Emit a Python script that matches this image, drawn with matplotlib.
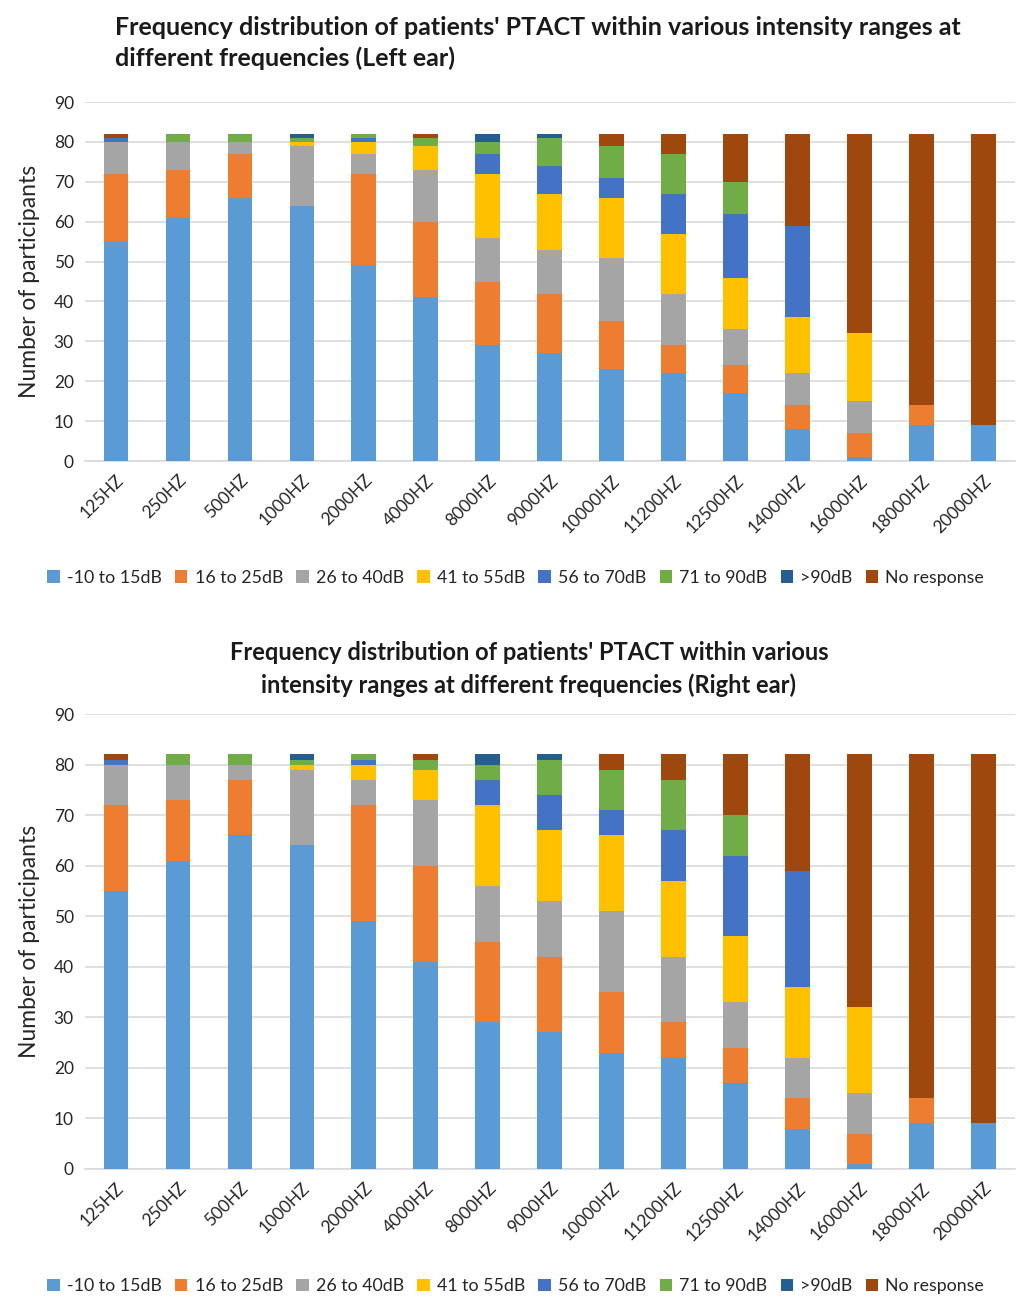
import numpy as np
import matplotlib
matplotlib.use('Agg')
import matplotlib.pyplot as plt
from matplotlib.patches import Patch

plt.rcParams['font.family'] = ['Lato', 'DejaVu Sans']

# frequencies tested
freqs = ['125HZ', '250HZ', '500HZ', '1000HZ', '2000HZ', '4000HZ', '8000HZ', '9000HZ',
         '10000HZ', '11200HZ', '12500HZ', '14000HZ', '16000HZ', '18000HZ', '20000HZ']

ranges = ['-10 to 15dB', '16 to 25dB', '26 to 40dB', '41 to 55dB',
          '56 to 70dB', '71 to 90dB', '>90dB', 'No response']
colors = ['#5B9BD5', '#ED7D31', '#A5A5A5', '#FFC000', '#4472C4', '#70AD47', '#255E91', '#9E480E']

# counts per intensity range (same for both ears)
r_m10_15 = [55, 61, 66, 64, 49, 41, 29, 27, 23, 22, 17, 8, 1, 9, 9]
r_16_25 = [17, 12, 11, 0, 23, 19, 16, 15, 12, 7, 7, 6, 6, 5, 0]
r_26_40 = [8, 7, 3, 15, 5, 13, 11, 11, 16, 13, 9, 8, 8, 0, 0]
r_41_55 = [0, 0, 0, 1, 3, 6, 16, 14, 15, 15, 13, 14, 17, 0, 0]
r_56_70 = [1, 0, 0, 0, 1, 0, 5, 7, 5, 10, 16, 23, 0, 0, 0]
r_71_90 = [0, 2, 2, 1, 1, 2, 3, 7, 8, 10, 8, 0, 0, 0, 0]
r_gt90 = [0, 0, 0, 1, 0, 0, 2, 1, 0, 0, 0, 0, 0, 0, 0]
r_none = [1, 0, 0, 0, 0, 1, 0, 0, 3, 5, 12, 23, 50, 68, 73]

left_ear = [r_m10_15, r_16_25, r_26_40, r_41_55, r_56_70, r_71_90, r_gt90, r_none]
right_ear = [r_m10_15, r_16_25, r_26_40, r_41_55, r_56_70, r_71_90, r_gt90, r_none]

fig = plt.figure(figsize=(10.17, 12.98), dpi=100)
ax1 = fig.add_axes([0.0836, 0.6448, 0.914, 0.2766])
ax2 = fig.add_axes([0.0836, 0.0994, 0.914, 0.3505])


def draw(ax, data):
    x = np.arange(len(freqs))
    bottom = np.zeros(len(freqs))
    for vals, c in zip(data, colors):
        ax.bar(x, vals, 0.4, bottom=bottom, color=c, zorder=3)
        bottom += np.array(vals)
    ax.set_xlim(-0.5, len(freqs) - 0.5)
    ax.set_ylim(0, 90)
    ax.set_yticks(range(0, 91, 10))
    ax.grid(axis='y', color='#D9D9D9', linewidth=1.2, zorder=0)
    for s in ['top', 'right', 'left']:
        ax.spines[s].set_visible(False)
    ax.spines['bottom'].set_color('#D9D9D9')
    ax.spines['bottom'].set_linewidth(1.2)
    ax.tick_params(axis='both', length=0, labelsize=12.5, colors='#262626', pad=8)
    ax.set_xticks(x)
    ax.set_xticklabels(freqs, rotation=45, ha='right', rotation_mode='anchor')
    ax.set_ylabel('Number of participants', fontsize=16.5, color='#262626', labelpad=10)


draw(ax1, left_ear)
draw(ax2, right_ear)

fig.text(0.113, 0.988, "Frequency distribution of patients' PTACT within various intensity ranges at\n"
         "different frequencies (Left ear)", fontsize=18, fontweight='bold', color='#1a1a1a',
         ha='left', va='top', linespacing=1.4)
fig.text(0.52, 0.506, "Frequency distribution of patients' PTACT within various\n"
         "intensity ranges at different frequencies (Right ear)", fontsize=17, fontweight='bold',
         color='#1a1a1a', ha='center', va='top', linespacing=1.45)

handles = [Patch(facecolor=c, label=l) for c, l in zip(colors, ranges)]
for y in [0.555, 0.009]:
    fig.legend(handles=handles, loc='center', bbox_to_anchor=(0.507, y), ncol=8, frameon=False,
               fontsize=12.8, handlelength=0.7, handleheight=0.7, handletextpad=0.4,
               columnspacing=0.75, labelcolor='#262626')

fig.savefig('out.png', dpi=100)
